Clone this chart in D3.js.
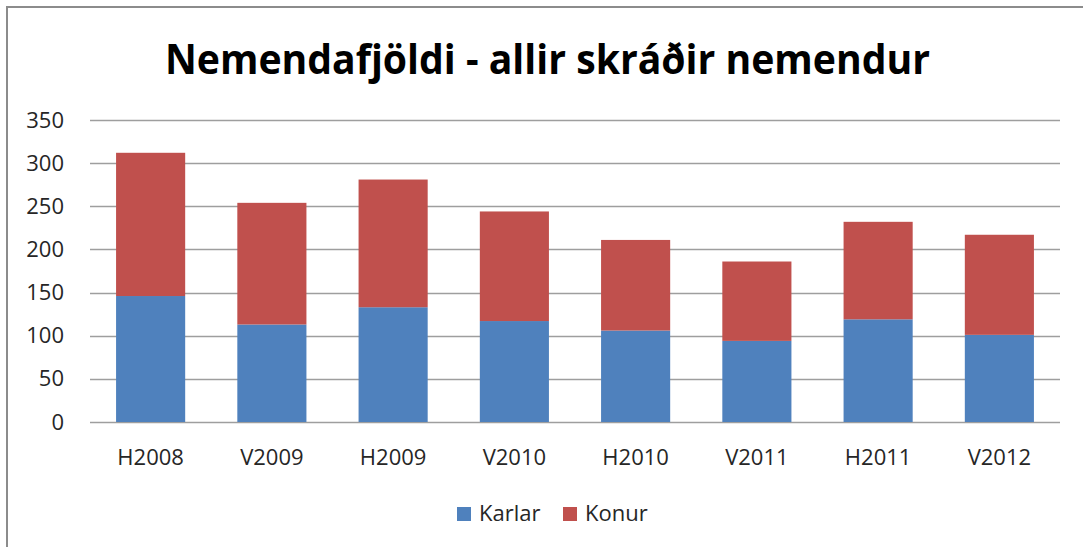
<!DOCTYPE html>
<html>
<head>
<meta charset="utf-8">
<script src="https://cdn.jsdelivr.net/npm/d3@7"></script>
<style>
  body { margin: 0; background: #fff; }
  text { font-family: "Open Sans", "Liberation Sans", sans-serif; }
</style>
</head>
<body>
<script>
// data
var terms = ["H2008", "V2009", "H2009", "V2010", "H2010", "V2011", "H2011", "V2012"];
var karlar = [146, 113, 133, 117, 106, 94, 119, 101];
var konur = [166, 141, 148, 127, 105, 92, 113, 116];
var seriesNames = ["Karlar", "Konur"];
var seriesColors = ["#4F81BD", "#C0504D"];
var yTicks = [0, 50, 100, 150, 200, 250, 300, 350];
var title = "Nemendafjöldi - allir skráðir nemendur";

var W = 1083, H = 547;
var margin = {top: 120, right: 23, bottom: 125, left: 90},
    width = W - margin.left - margin.right,
    height = H - margin.top - margin.bottom;

var svg = d3.select("body").append("svg")
    .attr("width", W)
    .attr("height", H);

// chart frame (only top and left edges show in the picture)
svg.append("rect")
    .attr("x", 7).attr("y", 7)
    .attr("width", W + 20).attr("height", H + 20)
    .attr("fill", "#fff")
    .attr("stroke", "#8c8c8c")
    .attr("stroke-width", 2);

svg.append("text")
    .attr("x", 165)
    .attr("y", 74)
    .attr("textLength", 765)
    .attr("lengthAdjust", "spacingAndGlyphs")
    .style("font-size", "42px")
    .style("font-weight", "bold")
    .style("fill", "#000")
    .text(title);

var g = svg.append("g")
    .attr("transform", "translate(" + margin.left + "," + margin.top + ")");

var x = d3.scaleBand().domain(terms).range([0, width]).paddingInner(0.43).paddingOuter(0.215);
var y = d3.scaleLinear().domain([0, 350]).range([height, 0]);

// gridlines
g.append("g").selectAll("line")
    .data(yTicks)
    .enter().append("line")
        .attr("x1", 0).attr("x2", width)
        .attr("y1", function(d) { return Math.round(y(d)) + 0.5; })
        .attr("y2", function(d) { return Math.round(y(d)) + 0.5; })
        .attr("stroke", "#9e9e9e")
        .attr("stroke-width", 1.5);

var rows = terms.map(function(t, i) { return {term: t, Karlar: karlar[i], Konur: konur[i]}; });
var stacked = d3.stack().keys(seriesNames)(rows);

g.append("g").selectAll("g")
    .data(stacked)
    .enter().append("g")
        .attr("fill", function(d, i) { return seriesColors[i]; })
    .selectAll("rect")
    .data(function(d) { return d; })
    .enter().append("rect")
        .attr("x", function(d) { return x(d.data.term); })
        .attr("y", function(d) { return y(d[1]); })
        .attr("width", x.bandwidth())
        .attr("height", function(d) { return y(d[0]) - y(d[1]); });

// y axis labels
var yAxis = d3.axisLeft(y).tickValues(yTicks).tickSize(0).tickPadding(26);
var ya = g.append("g").call(yAxis);
ya.select(".domain").remove();
ya.selectAll("text")
    .style("font-size", "22px")
    .style("fill", "#262626")
    .style("font-family", "'Open Sans', sans-serif");

// x axis labels
var xAxis = d3.axisBottom(x).tickSize(0).tickPadding(27);
var xa = g.append("g").attr("transform", "translate(0," + height + ")").call(xAxis);
xa.select(".domain").remove();
xa.selectAll("text")
    .style("font-size", "22px")
    .style("fill", "#262626")
    .style("font-family", "'Open Sans', sans-serif");

// legend
var legendX = [457, 563];
var legend = svg.append("g").selectAll("g")
    .data(seriesNames)
    .enter().append("g")
        .attr("transform", function(d, i) { return "translate(" + legendX[i] + ",507)"; });
legend.append("rect")
    .attr("width", 14).attr("height", 14)
    .attr("fill", function(d, i) { return seriesColors[i]; });
legend.append("text")
    .attr("x", 22).attr("y", 14)
    .style("font-size", "22px")
    .style("fill", "#262626")
    .text(function(d) { return d; });
</script>
</body>
</html>
